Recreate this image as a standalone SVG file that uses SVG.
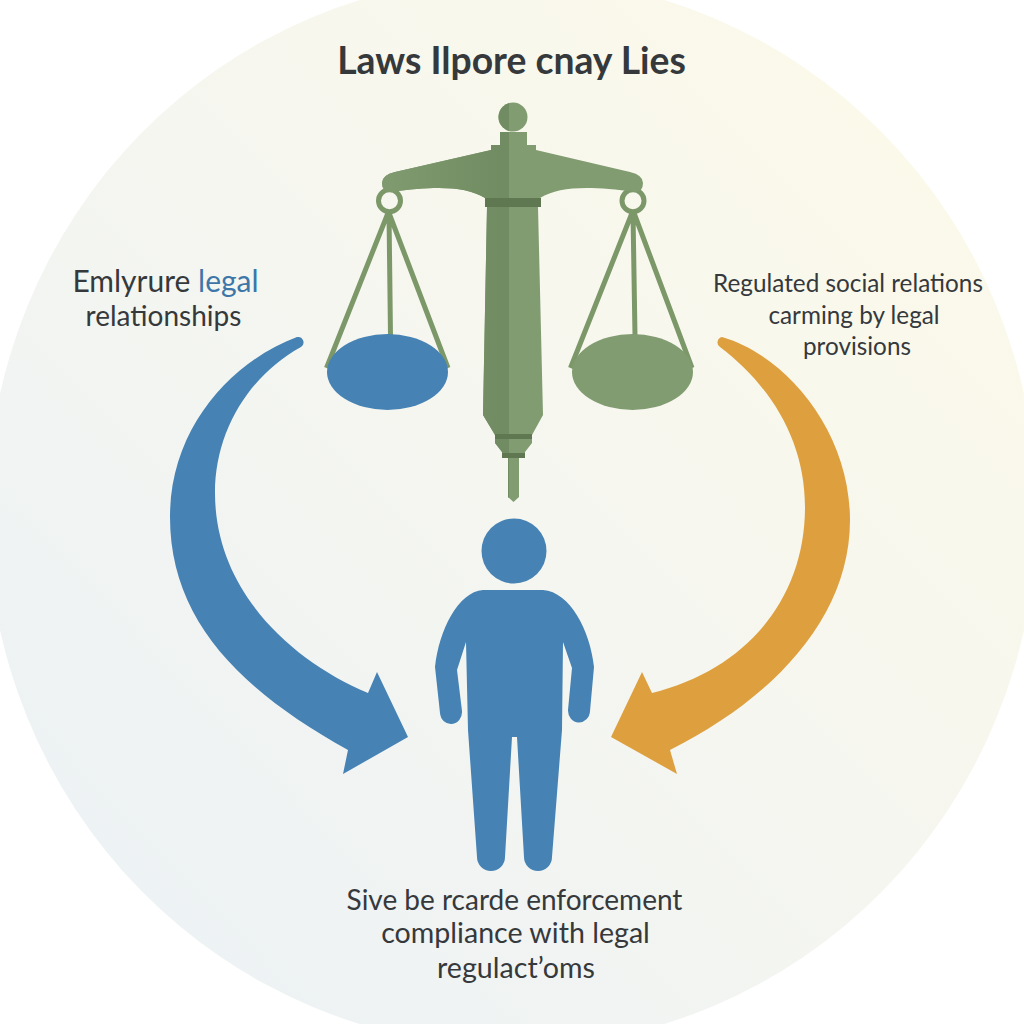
<svg xmlns="http://www.w3.org/2000/svg" width="1024" height="1024" viewBox="0 0 1024 1024">
<defs>
<linearGradient id="bg" x1="0.14" y1="0.86" x2="0.86" y2="0.14"><stop offset="0" stop-color="#edf2f4"/><stop offset="0.5" stop-color="#f5f6f0"/><stop offset="1" stop-color="#fbf9ea"/></linearGradient>
<linearGradient id="shade" gradientUnits="userSpaceOnUse" x1="390" y1="0" x2="500" y2="0"><stop offset="0" stop-color="#7f9a6e"/><stop offset="1" stop-color="#718c62"/></linearGradient>
<clipPath id="left-half"><rect x="300" y="90" width="209" height="420"/></clipPath>
<path id="body" d="M500 145V132H527V145H536V150L630 172Q643 175 643 183Q643 192 635 192C590 186 560 186 540 198L538 207L543 415L532 435V443L525 452V458H519V497L513.500 502L508 497V458H502V452L495 443V435L483 415L487 207L485 198C465 186 435 186 391 192Q382 192 382 183Q382 175 395 172L491 150V145Z"/>
</defs>
<style>
text{font-family:"Lato","Noto Sans",sans-serif;fill:#36393c;text-anchor:middle}
.t{font-size:37.300px;font-weight:700}
.a{font-size:30px}.b{font-size:28px}.c{font-size:24.300px}.d{font-size:28.600px}
.hl{fill:#3d76a8}
.blue{fill:#4682b4}.orange{fill:#dea03f}.green{fill:#819c70}.band{fill:#5f7852}
.line{fill:none;stroke:#7c9869;stroke-width:5}
</style>
<rect width="1024" height="1024" fill="#ffffff"/>
<ellipse cx="512" cy="512" rx="525" ry="535" fill="url(#bg)"/>
<text id="title" class="t" x="511.500" y="74">Laws Ilpore cnay Lies</text>
<g id="scale">
<g class="line"><circle cx="389.500" cy="200.700" r="11"/><circle cx="633" cy="200.700" r="11"/>
<path d="M388 213L326.500 368M389 213L390.500 336M389 213L448 368M632 213L570.500 368M633 213L635 336M634 213L692 368"/></g>
<ellipse id="pan-left" class="blue" cx="387.500" cy="372" rx="60.500" ry="38"/>
<ellipse id="pan-right" class="green" cx="632.500" cy="372" rx="60.500" ry="38"/>
<circle class="green" cx="513" cy="117" r="14.500"/>
<use href="#body" class="green"/>
<g clip-path="url(#left-half)" fill="url(#shade)"><use href="#body"/><circle cx="513" cy="117" r="14.500"/></g>
<rect class="band" x="485" y="198" width="56" height="9"/>
<rect class="band" x="495" y="434" width="37" height="5"/>
<rect class="band" x="502" y="453" width="23" height="5"/>
</g>
<g id="person" class="blue">
<circle cx="514" cy="551" r="32.500"/>
<path d="M483 590H543C570 592 590 630 594 667L590 711A11 12 0 0 1 568 710L572 668L563 642L562 730L552 857A14 14 0 0 1 524 857L517 737H512L505 857A14 14 0 0 1 477 857L468 730L466 642L457 670L462 711A11 12 0 0 1 440 713L435 667C439 630 458 592 483 590Z"/>
</g>
<g id="connectors">
<path class="blue" d="M297 337C235 360 170 425 170 517C170 620 240 690 348 750L343 774L408 737L377 672L368 693C290 660 215 590 215 493C215 430 250 375 301 347A5.500 5.500 0 0 0 297 337Z"/>
<path class="orange" d="M722 337C785 355 850 430 850 520C850 620 770 700 670 750L677 774L611 737L642 672L652 693C745 670 805 600 805 507C805 440 770 385 720 347A5.500 5.500 0 0 1 722 337Z"/>
</g>
<g id="label-left"><text class="a" x="165.500" y="292">Emlyrure <tspan class="hl">legal</tspan></text><text class="b" x="163.500" y="326">relationships</text></g>
<g id="label-right"><text class="c" x="848" y="292">Regulated social relations</text><text class="c" x="854" y="324">carming by legal</text><text class="c" x="857" y="355">provisions</text></g>
<g id="label-bottom"><text class="b" x="514.500" y="910">Sive be rcarde enforcement</text><text class="d" x="515.500" y="943">compliance with legal</text><text class="d" x="516" y="978">regulact’oms</text></g>
</svg>
